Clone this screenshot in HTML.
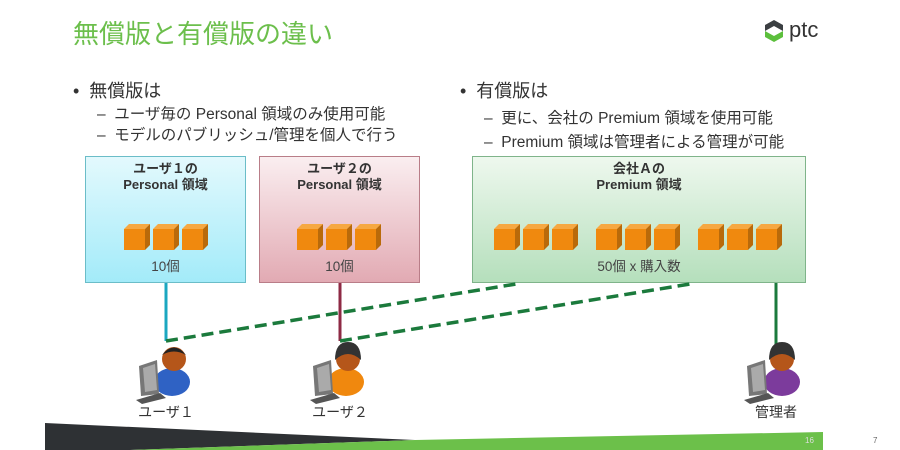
<!DOCTYPE html>
<html><head><meta charset="utf-8"><style>
body{margin:0;width:900px;height:450px;overflow:hidden;background:#fff;font-family:"Liberation Sans","Noto Sans CJK JP",sans-serif;position:relative}
.a{position:absolute;white-space:nowrap}
.t{left:73px;top:14px;font-size:26px;color:#6cbf4c}
.b{font-size:18px;color:#333}
.s{font-size:15.5px;color:#333}
.box{position:absolute;box-sizing:border-box;text-align:center;font-size:13px;font-weight:bold;color:#333;line-height:16px;padding-top:4px}
.cnt{position:absolute;left:0;right:0;top:102px;font-weight:normal;font-size:13.5px;color:#444}
.lbl{font-size:14px;color:#333;text-align:center;width:80px}
</style></head><body>
<div class="a t">無償版と有償版の違い</div>
<svg class="a" style="left:763px;top:19px" width="22" height="24" viewBox="0 0 22 24"><polygon points="11,1 20,6 20,12 11,7 2,12 2,6" fill="#3b3f42"/><polygon points="2,12 11,17 20,12 20,18 11,23 2,18" fill="#5cbf3c"/><polygon points="11,8 18,12 11,16 4,12" fill="#fff"/></svg>
<div class="a" style="left:789px;top:17px;font-size:22px;color:#333">ptc</div>
<div class="a b" style="left:73px;top:77px">•&nbsp; 無償版は</div>
<div class="a s" style="left:97px;top:102px">–&nbsp; ユーザ毎の Personal 領域のみ使用可能</div>
<div class="a s" style="left:97px;top:123px">–&nbsp; モデルのパブリッシュ/管理を個人で行う</div>
<div class="a b" style="left:460px;top:77px">•&nbsp; 有償版は</div>
<div class="a s" style="left:484px;top:106px">–&nbsp; 更に、会社の Premium 領域を使用可能</div>
<div class="a s" style="left:484px;top:130px">–&nbsp; Premium 領域は管理者による管理が可能</div>
<div class="box" style="left:85px;top:156px;width:161px;height:127px;background:linear-gradient(#e3f9fd,#a3ebf9);border:1px solid #6bbdc8">ユーザ１の<br>Personal 領域<div class="cnt">10個</div></div>
<div class="box" style="left:259px;top:156px;width:161px;height:127px;background:linear-gradient(#faeef0,#e2aab3);border:1px solid #b97d88">ユーザ２の<br>Personal 領域<div class="cnt">10個</div></div>
<div class="box" style="left:472px;top:156px;width:334px;height:127px;background:linear-gradient(#eef8ee,#b5dfbc);border:1px solid #7fb48a">会社Ａの<br>Premium 領域<div class="cnt">50個 x 購入数</div></div>
<svg class="a" style="left:0;top:0" width="900" height="450">
<defs><g id="c"><polygon points="0,5 5,0 26,0 21,5" fill="#f6a842"/><polygon points="21,5 26,0 26,21 21,26" fill="#b96a0a"/><rect x="0" y="5" width="21" height="21" fill="#f0890e"/></g></defs>
<use href="#c" x="124" y="224"/><use href="#c" x="153" y="224"/><use href="#c" x="182" y="224"/>
<use href="#c" x="297" y="224"/><use href="#c" x="326" y="224"/><use href="#c" x="355" y="224"/>
<use href="#c" x="494" y="224"/><use href="#c" x="523" y="224"/><use href="#c" x="552" y="224"/>
<use href="#c" x="596" y="224"/><use href="#c" x="625" y="224"/><use href="#c" x="654" y="224"/>
<use href="#c" x="698" y="224"/><use href="#c" x="727" y="224"/><use href="#c" x="756" y="224"/>
<line x1="166" y1="283" x2="166" y2="341" stroke="#1ba7c0" stroke-width="3"/>
<line x1="340" y1="283" x2="340" y2="341" stroke="#8e2a44" stroke-width="3"/>
<line x1="776" y1="283" x2="776" y2="346" stroke="#1b7a3c" stroke-width="3"/>
<line x1="166" y1="341" x2="516" y2="284" stroke="#1b7a3c" stroke-width="3.5" stroke-dasharray="12,6"/>
<line x1="340" y1="341" x2="690" y2="284" stroke="#1b7a3c" stroke-width="3.5" stroke-dasharray="12,6"/>
<g><ellipse cx="172" cy="382" rx="18" ry="14" fill="#2f62c4"/><circle cx="174" cy="359" r="12" fill="#b5561a"/><path d="M162,355 Q174,340 186,355 Q174,348 162,355Z" fill="#222"/><polygon points="139,366 157,360 159,394 141,396" fill="#777"/><polygon points="143,368 155,364 157,390 145,392" fill="#aaa"/><polygon points="136,400 160,393 166,398 142,404" fill="#555"/></g>
<g transform="translate(174,0)"><ellipse cx="172" cy="382" rx="18" ry="14" fill="#f0880e"/><circle cx="174" cy="359" r="12" fill="#b5561a"/><path d="M161,360 Q161,342 174,342 Q187,342 187,360 Q174,348 161,360Z" fill="#333"/><polygon points="139,366 157,360 159,394 141,396" fill="#777"/><polygon points="143,368 155,364 157,390 145,392" fill="#aaa"/><polygon points="136,400 160,393 166,398 142,404" fill="#555"/></g>
<g transform="translate(608,0)"><ellipse cx="174" cy="382" rx="18" ry="14" fill="#7c3b9c"/><circle cx="174" cy="359" r="12" fill="#b5561a"/><path d="M161,360 Q161,342 174,342 Q187,342 187,360 Q174,348 161,360Z" fill="#333"/><polygon points="139,366 157,360 159,394 141,396" fill="#777"/><polygon points="143,368 155,364 157,390 145,392" fill="#aaa"/><polygon points="136,400 160,393 166,398 142,404" fill="#555"/></g>
<polygon points="45,423 415,440 130,450 45,450" fill="#2e3134"/>
<polygon points="130,450 415,440 823,432 823,450" fill="#6cc04a"/>
<text x="805" y="443" font-size="8" fill="#ddd">16</text>
<text x="873" y="443" font-size="8" fill="#666">7</text>
</svg>
<div class="a lbl" style="left:126px;top:402px">ユーザ１</div>
<div class="a lbl" style="left:300px;top:402px">ユーザ２</div>
<div class="a lbl" style="left:736px;top:402px">管理者</div>
</body></html>
